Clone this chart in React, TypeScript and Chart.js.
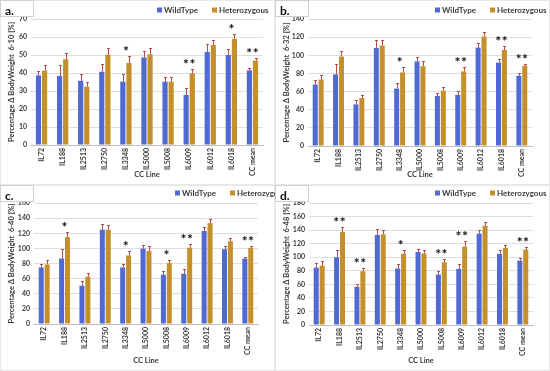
import React, { useEffect, useRef } from "react";
import { Chart, registerables } from "chart.js";
Chart.register(...registerables);

const FONT = "Lato, 'Open Sans', sans-serif";
const WT_COLOR = "#4f6ad2";
const HET_COLOR = "#c3902c";
const ERR_COLOR = "#b84a4a";
const TEXT_COLOR = "#3a3a3a";

const categories = ["IL72", "IL188", "IL2513", "IL2750", "IL3348", "IL5000", "IL5008", "IL6009", "IL6012", "IL6018", "CC mean"];
const seriesNames = ["WildType", "Heterozygous"];

// Panel a: 6-10
const wtA = [38.7, 38.3, 35.7, 40.7, 35.2, 48.7, 35.2, 27.8, 51.7, 50.0, 41.5];
const wtErrA = [2.6, 6, 4, 4.3, 4, 3.5, 2.8, 3.7, 4.3, 3.5, 1.5];
const hetA = [41.3, 47.6, 32.4, 50.2, 45.6, 50.4, 35.2, 39.8, 55.6, 58.9, 46.9];
const hetErrA = [3, 3.3, 2.4, 3.5, 3.7, 3.7, 2.8, 2.4, 2.8, 2.6, 1.7];
const sigA = ["", "", "", "", "*", "", "", "**", "", "*", "**"];

// Panel b: 6-32
const wtB = [67.8, 78.9, 45.9, 108.1, 63.3, 93.3, 55.2, 56.3, 108.5, 91.9, 77.4];
const wtErrB = [5, 12, 5, 9, 6, 4.8, 3, 4.8, 4.8, 4.4, 2.6];
const hetB = [73.3, 98.5, 52.9, 110.7, 81.1, 88.0, 61.0, 82.2, 120.7, 106.0, 88.5];
const hetErrB = [5.5, 6.7, 3.7, 6, 6, 5.5, 3.7, 4.8, 5.5, 4, 2.2];
const sigB = ["", "", "", "", "*", "", "", "**", "", "**", "**"];

// Panel c: 6-40
const wtC = [74.8, 86.6, 50.7, 124.7, 74.8, 99.7, 65.2, 66.5, 123.0, 98.9, 86.6];
const wtErrC = [4.4, 12, 6, 8, 5, 5, 4.8, 6, 4.8, 4, 2.6];
const hetC = [78.7, 115.0, 62.6, 124.7, 90.6, 96.7, 80.5, 101.0, 133.4, 109.4, 100.6];
const hetErrC = [6, 6.5, 4.4, 6.5, 5.5, 6.5, 4, 4.8, 4.8, 4.4, 2.6];
const sigC = ["", "*", "", "", "*", "", "*", "**", "", "", "**"];

// Panel d: 6-48
const wtD = [84.8, 100.0, 56.4, 132.8, 83.3, 107.8, 74.5, 82.8, 134.8, 104.9, 95.0];
const wtErrD = [6.4, 10, 4.4, 8.8, 6.4, 4.4, 4.9, 7.4, 4.9, 5.4, 3.4];
const hetD = [87.7, 137.3, 79.4, 133.8, 104.9, 105.4, 92.6, 115.7, 146.6, 113.7, 111.3];
const hetErrD = [6.4, 7.8, 4.4, 6.4, 6.4, 5.9, 4.9, 7.8, 5.9, 4.9, 3.4];
const sigD = ["", "**", "**", "", "*", "", "**", "**", "", "", "**"];

type PanelProps = {
  label: string;
  yTitle: string;
  yMax: number;
  yStep: number;
  wt: number[];
  wtErr: number[];
  het: number[];
  hetErr: number[];
  sig: string[];
  width: number;
  height: number;
  left: number;
  right: number;
  top: number;
  bottom: number;
  legendX: number;
  legendY: number;
};

function Panel(p: PanelProps) {
  const ref = useRef<HTMLCanvasElement>(null);
  useEffect(() => {
    if (!ref.current) return;
    const errs = [p.wtErr, p.hetErr];
    const overlay = {
      id: "overlay",
      afterDatasetsDraw(chart: any) {
        const ctx = chart.ctx;
        const ys = chart.scales.y;
        ctx.save();
        ctx.strokeStyle = ERR_COLOR;
        ctx.lineWidth = 1;
        chart.data.datasets.forEach((ds: any, i: number) => {
          const meta = chart.getDatasetMeta(i);
          meta.data.forEach((bar: any, j: number) => {
            const v = ds.data[j] as number;
            const topPx = Math.round(ys.getPixelForValue(v + errs[i][j])) + 0.5;
            const x = Math.round(bar.x) + 0.5;
            ctx.beginPath();
            ctx.moveTo(x, bar.y);
            ctx.lineTo(x, topPx);
            ctx.moveTo(x - 1.5, topPx);
            ctx.lineTo(x + 1.5, topPx);
            ctx.stroke();
          });
        });
        ctx.fillStyle = "#111";
        ctx.font = `bold 14px ${FONT}`;
        ctx.textAlign = "center";
        ctx.textBaseline = "alphabetic";
        p.sig.forEach((s, j) => {
          if (!s) return;
          const b0 = chart.getDatasetMeta(0).data[j];
          const b1 = chart.getDatasetMeta(1).data[j];
          const cx = (b0.x + b1.x) / 2;
          const topVal = Math.max(p.wt[j] + p.wtErr[j], p.het[j] + p.hetErr[j]);
          const cy = ys.getPixelForValue(topVal) - 8;
          const n = s.length;
          for (let k = 0; k < n; k++) {
            const dx = (k - (n - 1) / 2) * 6.4;
            ctx.fillText("*", cx + dx, cy + 8);
          }
        });
        ctx.restore();
      },
      afterDraw(chart: any) {
        const ctx = chart.ctx;
        ctx.save();
        // panel border
        ctx.strokeStyle = "#e8e8e8";
        ctx.lineWidth = 1;
        ctx.strokeRect(0.5, 0.5, chart.width - 1, chart.height - 1);
        // label box
        ctx.strokeStyle = "#cfcfcf";
        ctx.fillStyle = "#ffffff";
        ctx.fillRect(0.5, 0.5, 33, 16);
        ctx.strokeRect(0.5, 0.5, 33, 16);
        ctx.fillStyle = "#111";
        ctx.font = `bold 12px ${FONT}`;
        ctx.textAlign = "left";
        ctx.textBaseline = "alphabetic";
        ctx.fillText(p.label, 5, 15);
        // legend
        ctx.font = `bold 8px ${FONT}`;
        ctx.textBaseline = "middle";
        let x = p.legendX;
        chart.data.datasets.forEach((ds: any) => {
          ctx.fillStyle = ds.backgroundColor;
          ctx.fillRect(x, p.legendY - 2.5, 5, 5);
          ctx.fillStyle = TEXT_COLOR;
          ctx.fillText(ds.label, x + 7, p.legendY + 0.5);
          x += 7 + ctx.measureText(ds.label).width + 14;
        });
        ctx.restore();
      },
    };
    const chart = new Chart(ref.current, {
      type: "bar",
      data: {
        labels: categories,
        datasets: [
          { label: seriesNames[0], data: p.wt, backgroundColor: WT_COLOR },
          { label: seriesNames[1], data: p.het, backgroundColor: HET_COLOR },
        ],
      },
      options: {
        responsive: false,
        animation: false,
        devicePixelRatio: 1,
        layout: { padding: { top: p.top, right: p.width - p.right, bottom: 0, left: 0 } },
        datasets: { bar: { categoryPercentage: 0.58, barPercentage: 0.85 } },
        plugins: { legend: { display: false }, tooltip: { enabled: false } },
        scales: {
          x: {
            grid: { display: false, drawTicks: false },
            border: { display: true, color: "#bfbfbf" },
            ticks: {
              autoSkip: false,
              minRotation: 90,
              maxRotation: 90,
              padding: 3,
              color: TEXT_COLOR,
              font: { family: FONT, size: 7, weight: "bold" },
            },
            title: {
              display: true,
              text: "CC Line",
              color: TEXT_COLOR,
              font: { family: FONT, size: 7.5, weight: "bold" },
              padding: { top: 0, bottom: 6 },
            },
            afterFit: (s: any) => {
              s.height = p.height - p.bottom;
            },
          },
          y: {
            min: 0,
            max: p.yMax,
            grid: { color: "#dedede", drawTicks: false },
            border: { display: false },
            ticks: {
              stepSize: p.yStep,
              padding: 4,
              color: TEXT_COLOR,
              font: { family: FONT, size: 7, weight: "bold" },
            },
            title: {
              display: true,
              text: p.yTitle,
              color: TEXT_COLOR,
              font: { family: FONT, size: 7.5, weight: "bold" },
              padding: { top: 7, bottom: 0 },
            },
            afterFit: (s: any) => {
              s.width = p.left;
            },
          },
        },
      },
      plugins: [overlay],
    });
    return () => chart.destroy();
  }, []);
  return <canvas ref={ref} width={p.width} height={p.height} style={{ display: "block", width: p.width, height: p.height }} />;
}

export default function App() {
  return (
    <div style={{ position: "fixed", left: 0, top: 0, width: 550, height: 371, background: "#fff", display: "grid", gridTemplateColumns: "275px 275px", gridTemplateRows: "185px 186px" }}>
      <Panel label="a." yTitle="Percentage Δ BodyWeight  6-10 [%]" yMax={70} yStep={10} wt={wtA} wtErr={wtErrA} het={hetA} hetErr={hetErrA} sig={sigA}
        width={275} height={185} left={31} right={263} top={19} bottom={145} legendX={157} legendY={10} />
      <Panel label="b." yTitle="Percentage Δ BodyWeight  6-32 [%]" yMax={140} yStep={20} wt={wtB} wtErr={wtErrB} het={hetB} hetErr={hetErrB} sig={sigB}
        width={275} height={185} left={33} right={257} top={19} bottom={146} legendX={160} legendY={10} />
      <Panel label="c." yTitle="Percentage Δ BodyWeight  6-40 [%]" yMax={160} yStep={20} wt={wtC} wtErr={wtErrC} het={hetC} hetErr={hetErrC} sig={sigC}
        width={275} height={186} left={34} right={258} top={18} bottom={139} legendX={175} legendY={8} />
      <Panel label="d." yTitle="Percentage Δ BodyWeight  6-48 [%]" yMax={180} yStep={20} wt={wtD} wtErr={wtErrD} het={hetD} hetErr={hetErrD} sig={sigD}
        width={275} height={186} left={34} right={258} top={18} bottom={140} legendX={160} legendY={8} />
    </div>
  );
}
